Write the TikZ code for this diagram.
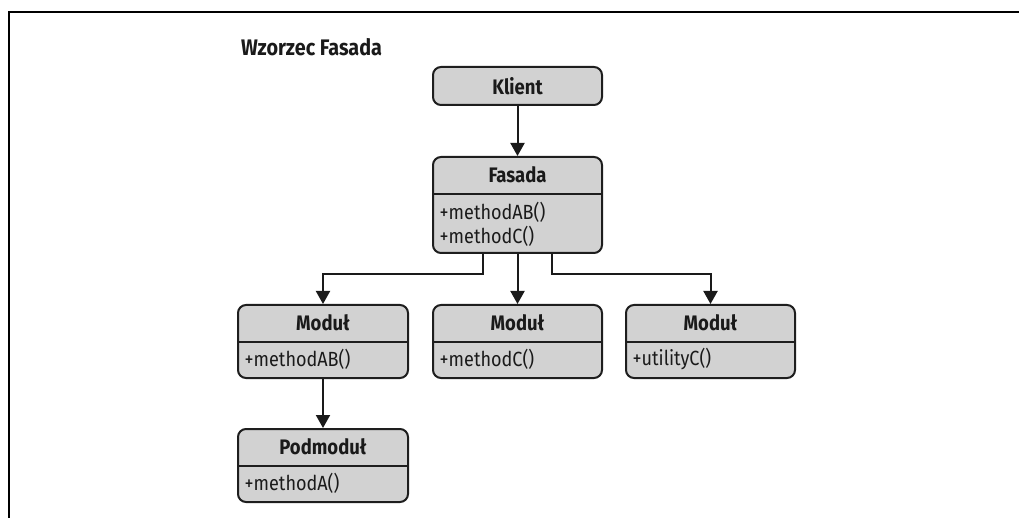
\documentclass[tikz,border=0pt]{standalone}
\usepackage{fontspec}
\setmainfont{Fira Sans}[FakeStretch=0.88]
\usetikzlibrary{arrows.meta}
\definecolor{boxfill}{HTML}{D2D2D2}
\definecolor{boxline}{HTML}{1E1E1E}
\definecolor{ink}{HTML}{1A1A1A}
\begin{document}
\begin{tikzpicture}[x=1pt,y=-1pt,
  box/.style={draw=boxline, fill=boxfill, line width=2pt, rounded corners=8pt, inner sep=0pt},
  divider/.style={draw=boxline, line width=2pt},
  head/.style={font=\fontsize{21}{23}\selectfont\bfseries, inner sep=0pt, text=ink},
  body/.style={font=\fontsize{20.5}{24}\selectfont, inner sep=0pt, anchor=west, align=left, text=ink},
  conn/.style={line width=2pt, draw=ink, -{Triangle[width=14pt,length=13pt]}},
]
\useasboundingbox (0,0) rectangle (1019,518);
\draw[line width=2.5pt] (9,518) -- (9,12) -- (1019,12);

\node[head, font=\fontsize{22.5}{24}\selectfont\bfseries, anchor=west] (title) at (241,47) {Wzorzec Fasada};

% boxes
\node[box, minimum width=169pt, minimum height=38pt] (klient) at (517.5,86) {};
\node[box, minimum width=169pt, minimum height=96pt] (fasada) at (517.5,205) {};
\node[box, minimum width=170pt, minimum height=73pt] (m1) at (323,341.5) {};
\node[box, minimum width=169pt, minimum height=73pt] (m2) at (517.5,341.5) {};
\node[box, minimum width=169pt, minimum height=73pt] (m3) at (710.5,341.5) {};
\node[box, minimum width=170pt, minimum height=73pt] (pod) at (323,465.5) {};

% dividers
\foreach \b in {fasada,m1,m2,m3,pod}{
  \draw[divider] ([yshift=-38pt]\b.north west) -- ([yshift=-38pt]\b.north east);
}

% texts
\node[head] (tklient) at (klient.center) {Klient};
\node[head] (tfasada) at ([yshift=-19pt]fasada.north) {Fasada};
\node[body] (bfasada) at ([xshift=7.5pt,yshift=-68pt]fasada.north west) {+methodAB()\\+methodC()};
\node[head] (tm1) at ([yshift=-19pt]m1.north) {Moduł};
\node[body] (bm1) at ([xshift=7.5pt,yshift=-55.5pt]m1.north west) {+methodAB()};
\node[head] (tm2) at ([yshift=-19pt]m2.north) {Moduł};
\node[body] (bm2) at ([xshift=7.5pt,yshift=-55.5pt]m2.north west) {+methodC()};
\node[head] (tm3) at ([yshift=-19pt]m3.north) {Moduł};
\node[body] (bm3) at ([xshift=7.5pt,yshift=-55.5pt]m3.north west) {+utilityC()};
\node[head] (tpod) at ([yshift=-19pt]pod.north) {Podmoduł};
\node[body] (bpod) at ([xshift=7.5pt,yshift=-55.5pt]pod.north west) {+methodA()};

% connectors
\draw[conn] (klient) -- (fasada);
\draw[conn] ([xshift=-34.5pt]fasada.south) -- ++(0,20) -| (m1.north);
\draw[conn] (fasada.south) -- (m2.north);
\draw[conn] ([xshift=34.5pt]fasada.south) -- ++(0,20) -| (m3.north);
\draw[conn] (m1) -- (pod);
\end{tikzpicture}
\end{document}
